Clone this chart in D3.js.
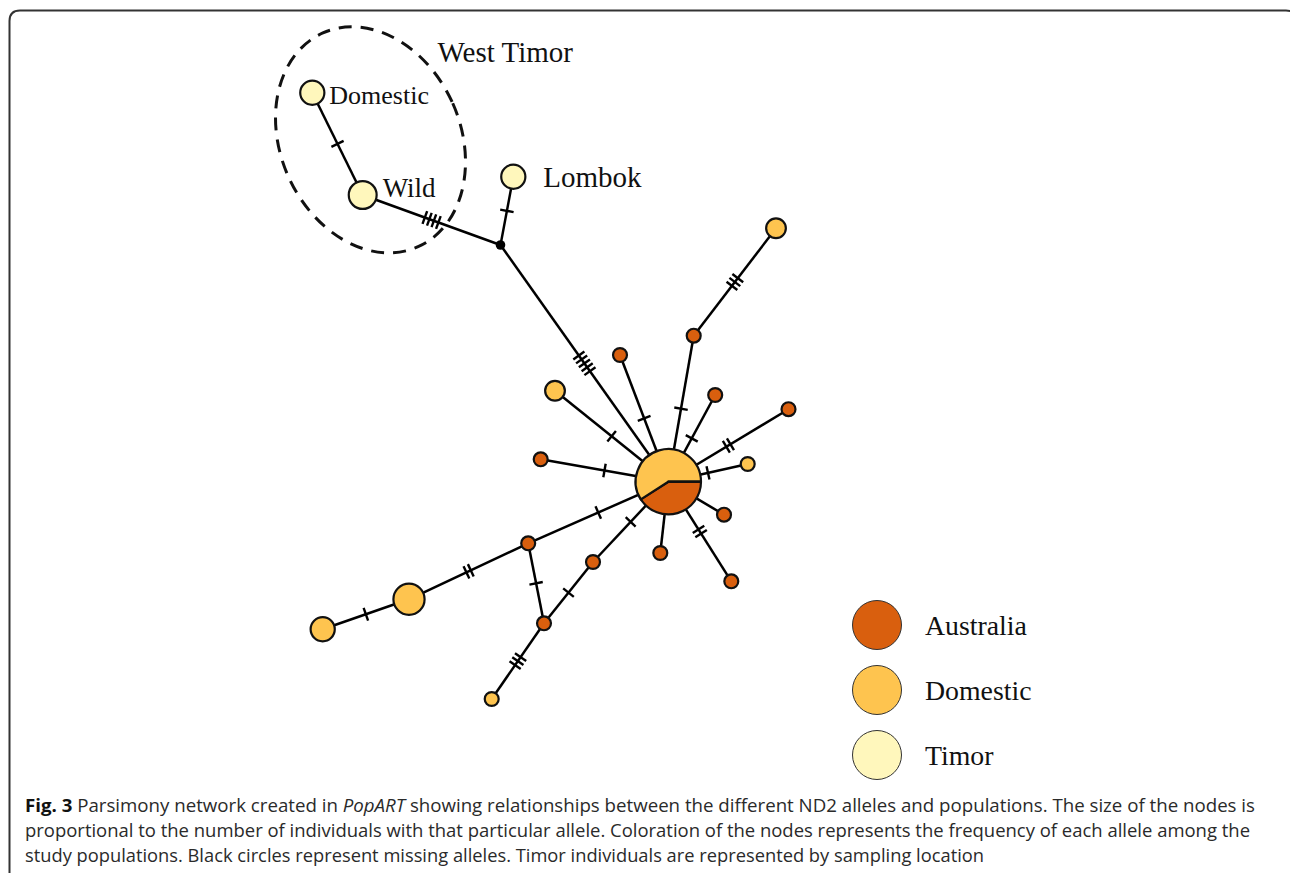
<!DOCTYPE html>
<html><head><meta charset="utf-8">
<script src="https://cdn.jsdelivr.net/npm/d3@7"></script>
<style>body{margin:0;background:#fff;} svg{display:block}</style>
</head><body>
<svg id="chart" width="1290" height="873"></svg>
<script>
// ---------------- DATA ----------------
const populations = ["Australia", "Domestic", "Timor"];
const popColors = ["#D95F0E", "#FEC44F", "#FFF7BC"];

// haplotype nodes (layout units relative to the central haplotype)
const nodeIds      = ["WTDom","WTWild","Lombok","M1","C","D1","A1","A2","D2","A3","A4","D3","A5","A6","A7","A8","A9","A10","D4","D5","A11","D6"];
const nodeLayoutX  = [-35.6,-30.56,-15.5,-16.78,0,10.77,2.54,-4.83,-11.33,4.69,12.02,7.94,-12.76,5.57,-0.8,6.3,-14.01,-7.53,-25.93,-34.56,-12.43,-17.66];
const nodeLayoutY  = [-38.9,-28.67,-30.5,-23.67,0,-25.34,-14.6,-12.67,-9.1,-8.67,-7.25,-1.77,-2.24,3.3,7.13,9.96,6.16,8.03,11.76,14.76,14.16,21.73];
const countAustralia = [0,0,0,0,9,0,1,1,0,1,1,0,1,1,1,1,1,1,0,0,1,0];
const countDomestic  = [0,0,0,0,13,2,0,0,2,0,0,1,0,0,0,0,0,0,5,3,0,1];
const countTimor     = [3,4,3,0,0,0,0,0,0,0,0,0,0,0,0,0,0,0,0,0,0,0];

// edges with number of mutation steps
const edgeSource    = ["WTDom","WTWild","Lombok","M1","C","C","A1","C","C","C","C","C","C","C","C","C","C","A9","D4","A9","A10","A11"];
const edgeTarget    = ["WTWild","M1","M1","C","A2","A1","D1","D2","A3","A4","D3","A5","A6","A7","A8","A9","A10","D4","D5","A11","A11","D6"];
const edgeMutations = [1,4,1,5,1,1,3,1,1,2,1,1,0,0,2,1,1,2,1,1,1,3];

// node labels
const labelNodes = ["WTDom","WTWild","Lombok"];
const labelTexts = ["Domestic","Wild","Lombok"];
const groupLabel = "West Timor";

const captionLines = [
  [{t:"Fig. 3", w:"bold"}, {t:" Parsimony network created in "}, {t:"PopART", s:"italic"}, {t:" showing relationships between the different ND2 alleles and populations. The size of the nodes is"}],
  [{t:"proportional to the number of individuals with that particular allele. Coloration of the nodes represents the frequency of each allele among the"}],
  [{t:"study populations. Black circles represent missing alleles. Timor individuals are represented by sampling location"}]
];

// ---------------- DRAW ----------------
const svg = d3.select("#chart");
svg.append("rect").attr("width",1290).attr("height",873).attr("fill","#fff");

// frame
svg.append("path")
  .attr("d","M9.5,873 V21 Q9.5,10.5 20,10.5 H1286 Q1297,10.5 1297,21 V873")
  .attr("fill","none").attr("stroke","#333").attr("stroke-width",2);

const x = d3.scaleLinear().domain([0,1]).range([668.3,678.3]);
const y = d3.scaleLinear().domain([0,1]).range([481.7,491.7]);
const r = d3.scaleSqrt().domain([0,22]).range([0,32.7]);
const color = d3.scaleOrdinal().domain(populations).range(popColors);

const nodes = nodeIds.map((id,i)=>({
  id, x:x(nodeLayoutX[i]), y:y(nodeLayoutY[i]),
  counts:[countAustralia[i],countDomestic[i],countTimor[i]],
  total: countAustralia[i]+countDomestic[i]+countTimor[i]
}));
const byId = new Map(nodes.map(n=>[n.id,n]));
const edges = edgeSource.map((s,i)=>({s:byId.get(s), t:byId.get(edgeTarget[i]), m:edgeMutations[i]}));

// West Timor dashed ellipse (around the two West Timor haplotypes)
const wt1 = byId.get("WTDom"), wt2 = byId.get("WTWild");
const ecx = (wt1.x+wt2.x)/2 + 33, ecy = (wt1.y+wt2.y)/2 - 4;
svg.append("ellipse")
  .attr("cx",ecx).attr("cy",ecy).attr("rx",90).attr("ry",117)
  .attr("transform",`rotate(-24,${ecx},${ecy})`)
  .attr("fill","none").attr("stroke","#111").attr("stroke-width",3)
  .attr("stroke-dasharray","13 9");

// edges
svg.append("g").selectAll("line").data(edges).join("line")
  .attr("x1",d=>d.s.x).attr("y1",d=>d.s.y).attr("x2",d=>d.t.x).attr("y2",d=>d.t.y)
  .attr("stroke","#000").attr("stroke-width",2.5);

// mutation ticks
const tickData = [];
edges.forEach(e=>{
  const dx=e.t.x-e.s.x, dy=e.t.y-e.s.y, L=Math.hypot(dx,dy);
  const ux=dx/L, uy=dy/L, nx=-uy, ny=ux;
  const mx=(e.s.x+e.t.x)/2, my=(e.s.y+e.t.y)/2;
  for(let k=0;k<e.m;k++){
    const o=(k-(e.m-1)/2)*4.8;
    const cx=mx+ux*o, cy=my+uy*o;
    tickData.push({x1:cx+nx*6.8,y1:cy+ny*6.8,x2:cx-nx*6.8,y2:cy-ny*6.8});
  }
});
svg.append("g").selectAll("line").data(tickData).join("line")
  .attr("x1",d=>d.x1).attr("y1",d=>d.y1).attr("x2",d=>d.x2).attr("y2",d=>d.y2)
  .attr("stroke","#000").attr("stroke-width",2.4);

// nodes
const pie = d3.pie().sort(null).startAngle(Math.PI/2).endAngle(Math.PI/2+2*Math.PI);
const gN = svg.append("g");
nodes.forEach(n=>{
  if(n.total===0){
    gN.append("circle").attr("cx",n.x).attr("cy",n.y).attr("r",4.8).attr("fill","#000");
    return;
  }
  const nonzero = n.counts.filter(c=>c>0).length;
  const rad = r(n.total);
  if(nonzero===1){
    const pi = n.counts.findIndex(c=>c>0);
    gN.append("circle").attr("cx",n.x).attr("cy",n.y).attr("r",rad)
      .attr("fill",color(populations[pi])).attr("stroke","#111").attr("stroke-width",2.2);
  } else {
    const arc = d3.arc().innerRadius(0).outerRadius(rad);
    const g = gN.append("g").attr("transform",`translate(${n.x},${n.y})`);
    g.selectAll("path").data(pie(n.counts)).join("path")
      .attr("d",arc).attr("fill",(d,i)=>popColors[i])
      .attr("stroke","#111").attr("stroke-width",2.2).attr("stroke-linejoin","round");
  }
});

// node labels
const serif = "'Liberation Serif','Times New Roman',serif";
const labelDx = [17,20,30], labelDy = [11,2,10], labelSize=[26,27,29];
labelNodes.forEach((id,i)=>{
  const n = byId.get(id);
  svg.append("text").attr("x",n.x+labelDx[i]).attr("y",n.y+labelDy[i])
    .attr("font-family",serif).attr("font-size",labelSize[i]).attr("fill","#111").text(labelTexts[i]);
});
svg.append("text").attr("x",ecx+67).attr("y",ecy-78)
  .attr("font-family",serif).attr("font-size",29).attr("fill","#111").text(groupLabel);

// legend
const legY = d3.scalePoint().domain(populations).range([625,755]);
const leg = svg.append("g");
populations.forEach(p=>{
  leg.append("circle").attr("cx",877).attr("cy",legY(p)).attr("r",24.5)
    .attr("fill",color(p)).attr("stroke","#333").attr("stroke-width",1);
  leg.append("text").attr("x",925).attr("y",legY(p)+10)
    .attr("font-family",serif).attr("font-size",27.8).attr("fill","#111").text(p);
});

// caption
const capBase = [812,837,862], capWidth=[1230,1225,959];
captionLines.forEach((line,i)=>{
  const t = svg.append("text").attr("x",25).attr("y",capBase[i])
    .attr("font-family","'Open Sans','Noto Sans',sans-serif").attr("font-size",18.5).attr("fill","#2a2a2a")
    .attr("textLength",capWidth[i]).attr("lengthAdjust","spacingAndGlyphs");
  line.forEach(seg=>{
    const ts = t.append("tspan").text(seg.t);
    if(seg.w) ts.attr("font-weight",seg.w).attr("fill","#111");
    if(seg.s) ts.attr("font-style",seg.s);
  });
});
</script>
</body></html>
